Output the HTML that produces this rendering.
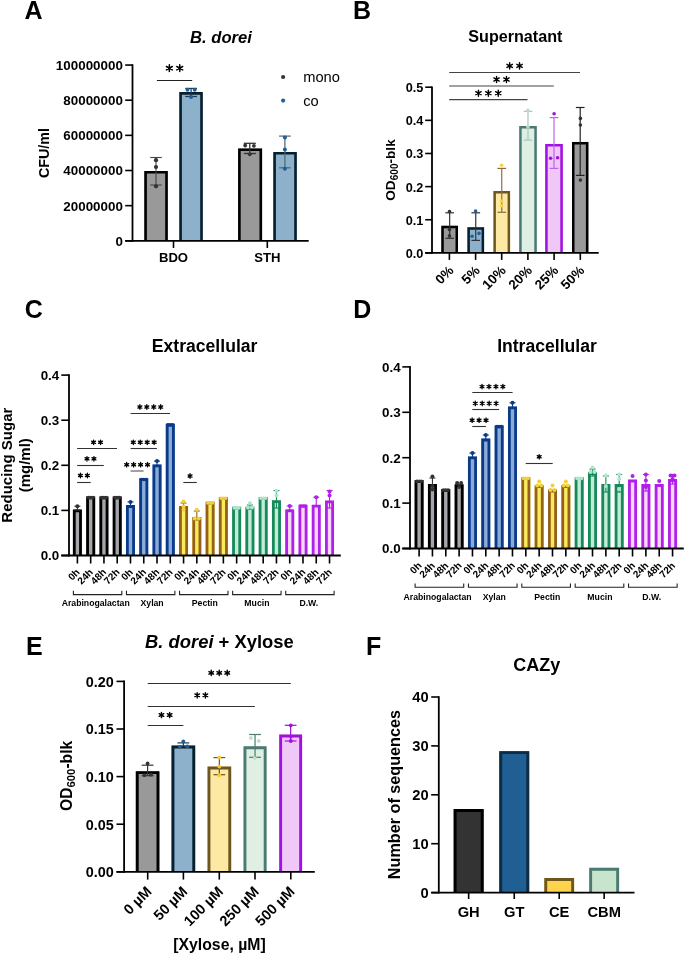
<!DOCTYPE html>
<html><head><meta charset="utf-8"><style>
html,body{margin:0;padding:0;background:#fff;}
svg{display:block;font-family:"Liberation Sans", sans-serif;will-change:transform;}
</style></head><body>
<svg width="685" height="954" viewBox="0 0 685 954">
<rect width="685" height="954" fill="#fff"/>
<text x="24.60" y="18.80" font-size="25" font-weight="bold">A</text>
<text x="221.00" y="42.70" font-size="16.6" font-weight="bold" font-style="italic" text-anchor="middle">B. dorei</text>
<line x1="125.20" y1="240.80" x2="132.50" y2="240.80" stroke="#000" stroke-width="1.6"/>
<text x="122.90" y="245.70" font-size="13.4" font-weight="bold" text-anchor="end">0</text>
<line x1="125.20" y1="205.65" x2="132.50" y2="205.65" stroke="#000" stroke-width="1.6"/>
<text x="122.90" y="210.55" font-size="13.4" font-weight="bold" text-anchor="end">20000000</text>
<line x1="125.20" y1="170.50" x2="132.50" y2="170.50" stroke="#000" stroke-width="1.6"/>
<text x="122.90" y="175.40" font-size="13.4" font-weight="bold" text-anchor="end">40000000</text>
<line x1="125.20" y1="135.35" x2="132.50" y2="135.35" stroke="#000" stroke-width="1.6"/>
<text x="122.90" y="140.25" font-size="13.4" font-weight="bold" text-anchor="end">60000000</text>
<line x1="125.20" y1="100.20" x2="132.50" y2="100.20" stroke="#000" stroke-width="1.6"/>
<text x="122.90" y="105.10" font-size="13.4" font-weight="bold" text-anchor="end">80000000</text>
<line x1="125.20" y1="65.05" x2="132.50" y2="65.05" stroke="#000" stroke-width="1.6"/>
<text x="122.90" y="69.95" font-size="13.4" font-weight="bold" text-anchor="end">100000000</text>
<line x1="132.50" y1="64.25" x2="132.50" y2="241.70" stroke="#000" stroke-width="1.8"/>
<line x1="173.50" y1="240.80" x2="173.50" y2="248.00" stroke="#000" stroke-width="1.6"/>
<line x1="267.30" y1="240.80" x2="267.30" y2="248.00" stroke="#000" stroke-width="1.6"/>
<text x="173.50" y="262.40" font-size="13.1" font-weight="bold" text-anchor="middle">BDO</text>
<text x="267.40" y="262.40" font-size="13.1" font-weight="bold" text-anchor="middle">STH</text>
<text x="49.20" y="153.00" font-size="14.3" font-weight="bold" text-anchor="middle" transform="rotate(-90 49.20 153.00)">CFU/ml</text>
<rect x="144.30" y="171.00" width="23.50" height="69.80" fill="#999999"/>
<path d="M145.60 240.80V172.30H166.50V240.80" fill="none" stroke="#000000" stroke-width="2.6"/>
<rect x="179.30" y="92.10" width="23.50" height="148.70" fill="#8eb1cb"/>
<path d="M180.60 240.80V93.40H201.50V240.80" fill="none" stroke="#07202f" stroke-width="2.6"/>
<rect x="238.10" y="148.40" width="24.00" height="92.40" fill="#999999"/>
<path d="M239.40 240.80V149.70H260.80V240.80" fill="none" stroke="#000000" stroke-width="2.6"/>
<rect x="273.30" y="152.00" width="23.50" height="88.80" fill="#8eb1cb"/>
<path d="M274.60 240.80V153.30H295.50V240.80" fill="none" stroke="#07202f" stroke-width="2.6"/>
<line x1="156.00" y1="157.50" x2="156.00" y2="185.00" stroke="#444" stroke-width="1.1"/>
<line x1="150.20" y1="157.50" x2="161.80" y2="157.50" stroke="#444" stroke-width="1.1"/>
<line x1="150.20" y1="185.00" x2="161.80" y2="185.00" stroke="#444" stroke-width="1.1"/>
<circle cx="156.00" cy="160.20" r="2.1" fill="#333333"/>
<circle cx="156.00" cy="167.00" r="2.1" fill="#333333"/>
<circle cx="156.00" cy="186.30" r="2.1" fill="#333333"/>
<line x1="191.10" y1="88.40" x2="191.10" y2="96.50" stroke="#1e3a50" stroke-width="1.2"/>
<line x1="185.20" y1="88.40" x2="197.00" y2="88.40" stroke="#1e3a50" stroke-width="1.2"/>
<line x1="185.20" y1="96.50" x2="197.00" y2="96.50" stroke="#1e3a50" stroke-width="1.2"/>
<circle cx="187.50" cy="89.70" r="2.0" fill="#1f5f9a"/>
<circle cx="194.70" cy="89.70" r="2.0" fill="#1f5f9a"/>
<circle cx="191.10" cy="97.10" r="2.0" fill="#1f5f9a"/>
<line x1="249.80" y1="143.30" x2="249.80" y2="153.50" stroke="#333333" stroke-width="1.3"/>
<line x1="243.80" y1="143.30" x2="255.80" y2="143.30" stroke="#333333" stroke-width="1.3"/>
<line x1="243.80" y1="153.50" x2="255.80" y2="153.50" stroke="#333333" stroke-width="1.3"/>
<circle cx="245.20" cy="145.50" r="1.9" fill="#333333"/>
<circle cx="253.90" cy="145.80" r="1.9" fill="#333333"/>
<circle cx="249.80" cy="154.30" r="1.9" fill="#333333"/>
<line x1="284.90" y1="136.10" x2="284.90" y2="167.80" stroke="#4a6478" stroke-width="1.2"/>
<line x1="279.10" y1="136.10" x2="290.70" y2="136.10" stroke="#4a6478" stroke-width="1.2"/>
<line x1="279.10" y1="167.80" x2="290.70" y2="167.80" stroke="#4a6478" stroke-width="1.2"/>
<circle cx="284.90" cy="137.40" r="2.0" fill="#1f5f9a"/>
<circle cx="284.90" cy="149.40" r="2.0" fill="#1f5f9a"/>
<circle cx="284.90" cy="168.80" r="2.0" fill="#1f5f9a"/>
<line x1="156.90" y1="80.50" x2="192.20" y2="80.50" stroke="#222" stroke-width="1.15"/>
<path d="M169.35 71.60L169.35 64.80M166.41 69.90L172.29 66.50M166.41 66.50L172.29 69.90" stroke="#000" stroke-width="1.5" stroke-linecap="round" fill="none"/>
<circle cx="169.35" cy="68.20" r="1.29" fill="#000"/>
<path d="M179.75 71.60L179.75 64.80M176.81 69.90L182.69 66.50M176.81 66.50L182.69 69.90" stroke="#000" stroke-width="1.5" stroke-linecap="round" fill="none"/>
<circle cx="179.75" cy="68.20" r="1.29" fill="#000"/>
<circle cx="283.10" cy="77.00" r="2.1" fill="#333"/>
<circle cx="283.10" cy="100.60" r="2.1" fill="#2060a0"/>
<text x="303.20" y="82.00" font-size="14.7">mono</text>
<text x="303.20" y="105.50" font-size="14.7">co</text>
<text x="353.10" y="18.90" font-size="25" font-weight="bold">B</text>
<text x="515.35" y="41.50" font-size="16.15" font-weight="bold" text-anchor="middle">Supernatant</text>
<line x1="425.20" y1="252.90" x2="432.00" y2="252.90" stroke="#000" stroke-width="1.6"/>
<text x="423.30" y="257.90" font-size="12.7" font-weight="bold" text-anchor="end">0.0</text>
<line x1="425.20" y1="219.76" x2="432.00" y2="219.76" stroke="#000" stroke-width="1.6"/>
<text x="423.30" y="224.76" font-size="12.7" font-weight="bold" text-anchor="end">0.1</text>
<line x1="425.20" y1="186.62" x2="432.00" y2="186.62" stroke="#000" stroke-width="1.6"/>
<text x="423.30" y="191.62" font-size="12.7" font-weight="bold" text-anchor="end">0.2</text>
<line x1="425.20" y1="153.48" x2="432.00" y2="153.48" stroke="#000" stroke-width="1.6"/>
<text x="423.30" y="158.48" font-size="12.7" font-weight="bold" text-anchor="end">0.3</text>
<line x1="425.20" y1="120.34" x2="432.00" y2="120.34" stroke="#000" stroke-width="1.6"/>
<text x="423.30" y="125.34" font-size="12.7" font-weight="bold" text-anchor="end">0.4</text>
<line x1="425.20" y1="87.20" x2="432.00" y2="87.20" stroke="#000" stroke-width="1.6"/>
<text x="423.30" y="92.20" font-size="12.7" font-weight="bold" text-anchor="end">0.5</text>
<line x1="432.00" y1="86.40" x2="432.00" y2="253.80" stroke="#000" stroke-width="1.8"/>
<text x="395.00" y="170.00" font-size="13.6" font-weight="bold" text-anchor="middle" transform="rotate(-90 395.00 170.00)">OD<tspan font-size="10.1" dy="3">600</tspan><tspan dy="-3">-blk</tspan></text>
<line x1="449.40" y1="252.90" x2="449.40" y2="259.90" stroke="#000" stroke-width="1.6"/>
<text x="454.40" y="271.40" font-size="13.4" font-weight="bold" text-anchor="end" transform="rotate(-45 454.40 271.40)">0%</text>
<line x1="475.60" y1="252.90" x2="475.60" y2="259.90" stroke="#000" stroke-width="1.6"/>
<text x="480.60" y="271.40" font-size="13.4" font-weight="bold" text-anchor="end" transform="rotate(-45 480.60 271.40)">5%</text>
<line x1="501.70" y1="252.90" x2="501.70" y2="259.90" stroke="#000" stroke-width="1.6"/>
<text x="506.70" y="271.40" font-size="13.4" font-weight="bold" text-anchor="end" transform="rotate(-45 506.70 271.40)">10%</text>
<line x1="527.90" y1="252.90" x2="527.90" y2="259.90" stroke="#000" stroke-width="1.6"/>
<text x="532.90" y="271.40" font-size="13.4" font-weight="bold" text-anchor="end" transform="rotate(-45 532.90 271.40)">20%</text>
<line x1="554.10" y1="252.90" x2="554.10" y2="259.90" stroke="#000" stroke-width="1.6"/>
<text x="559.10" y="271.40" font-size="13.4" font-weight="bold" text-anchor="end" transform="rotate(-45 559.10 271.40)">25%</text>
<line x1="580.30" y1="252.90" x2="580.30" y2="259.90" stroke="#000" stroke-width="1.6"/>
<text x="585.30" y="271.40" font-size="13.4" font-weight="bold" text-anchor="end" transform="rotate(-45 585.30 271.40)">50%</text>
<rect x="441.30" y="225.80" width="16.70" height="27.10" fill="#999999"/>
<path d="M442.55 252.90V227.05H456.75V252.90" fill="none" stroke="#000000" stroke-width="2.5"/>
<line x1="449.65" y1="212.80" x2="449.65" y2="238.30" stroke="#333333" stroke-width="1.2"/>
<line x1="445.30" y1="212.80" x2="454.00" y2="212.80" stroke="#333333" stroke-width="1.2"/>
<line x1="445.30" y1="238.30" x2="454.00" y2="238.30" stroke="#333333" stroke-width="1.2"/>
<circle cx="449.50" cy="211.60" r="1.8" fill="#333333"/>
<circle cx="449.50" cy="229.60" r="1.8" fill="#333333"/>
<circle cx="449.50" cy="235.90" r="1.8" fill="#333333"/>
<rect x="467.40" y="227.20" width="16.70" height="25.70" fill="#8eb1cb"/>
<path d="M468.65 252.90V228.45H482.85V252.90" fill="none" stroke="#07202f" stroke-width="2.5"/>
<line x1="475.75" y1="212.80" x2="475.75" y2="240.40" stroke="#333333" stroke-width="1.2"/>
<line x1="471.40" y1="212.80" x2="480.10" y2="212.80" stroke="#333333" stroke-width="1.2"/>
<line x1="471.40" y1="240.40" x2="480.10" y2="240.40" stroke="#333333" stroke-width="1.2"/>
<circle cx="475.60" cy="211.00" r="1.8" fill="#2060a0"/>
<circle cx="472.10" cy="236.20" r="1.8" fill="#2060a0"/>
<circle cx="479.00" cy="233.40" r="1.8" fill="#2060a0"/>
<rect x="493.40" y="191.10" width="16.70" height="61.80" fill="#fde8a4"/>
<path d="M494.65 252.90V192.35H508.85V252.90" fill="none" stroke="#6e5620" stroke-width="2.5"/>
<line x1="501.75" y1="168.40" x2="501.75" y2="212.30" stroke="#8a7040" stroke-width="1.2"/>
<line x1="497.40" y1="168.40" x2="506.10" y2="168.40" stroke="#8a7040" stroke-width="1.2"/>
<line x1="497.40" y1="212.30" x2="506.10" y2="212.30" stroke="#8a7040" stroke-width="1.2"/>
<circle cx="501.60" cy="165.20" r="1.8" fill="#f8d048"/>
<circle cx="501.60" cy="201.00" r="1.8" fill="#f8d048"/>
<circle cx="501.60" cy="205.80" r="1.8" fill="#f8d048"/>
<rect x="519.20" y="126.00" width="17.60" height="126.90" fill="#e0efe4"/>
<path d="M520.45 252.90V127.25H535.55V252.90" fill="none" stroke="#4a7a72" stroke-width="2.5"/>
<line x1="528.00" y1="111.40" x2="528.00" y2="140.20" stroke="#a8c8b8" stroke-width="1.2"/>
<line x1="523.65" y1="111.40" x2="532.35" y2="111.40" stroke="#a8c8b8" stroke-width="1.2"/>
<line x1="523.65" y1="140.20" x2="532.35" y2="140.20" stroke="#a8c8b8" stroke-width="1.2"/>
<circle cx="527.90" cy="110.40" r="1.8" fill="#b8dcc8"/>
<circle cx="527.90" cy="126.80" r="1.8" fill="#b8dcc8"/>
<circle cx="527.90" cy="139.00" r="1.8" fill="#b8dcc8"/>
<rect x="545.20" y="143.90" width="17.60" height="109.00" fill="#f0c8f8"/>
<path d="M546.45 252.90V145.15H561.55V252.90" fill="none" stroke="#a010e0" stroke-width="2.5"/>
<line x1="554.00" y1="117.60" x2="554.00" y2="168.40" stroke="#c060f0" stroke-width="1.2"/>
<line x1="549.65" y1="117.60" x2="558.35" y2="117.60" stroke="#c060f0" stroke-width="1.2"/>
<line x1="549.65" y1="168.40" x2="558.35" y2="168.40" stroke="#c060f0" stroke-width="1.2"/>
<circle cx="554.10" cy="113.70" r="1.8" fill="#a010e0"/>
<circle cx="550.60" cy="158.30" r="1.8" fill="#a010e0"/>
<circle cx="557.60" cy="157.80" r="1.8" fill="#a010e0"/>
<rect x="572.00" y="141.90" width="16.40" height="111.00" fill="#999999"/>
<path d="M573.25 252.90V143.15H587.15V252.90" fill="none" stroke="#000000" stroke-width="2.5"/>
<line x1="580.20" y1="107.50" x2="580.20" y2="175.40" stroke="#222222" stroke-width="1.2"/>
<line x1="575.85" y1="107.50" x2="584.55" y2="107.50" stroke="#222222" stroke-width="1.2"/>
<line x1="575.85" y1="175.40" x2="584.55" y2="175.40" stroke="#222222" stroke-width="1.2"/>
<circle cx="580.40" cy="118.40" r="1.8" fill="#333333"/>
<circle cx="580.40" cy="125.10" r="1.8" fill="#333333"/>
<circle cx="580.40" cy="180.10" r="1.8" fill="#333333"/>
<line x1="449.20" y1="72.50" x2="580.00" y2="72.50" stroke="#444" stroke-width="1.15"/>
<path d="M509.65 69.00L509.65 62.80M506.97 67.45L512.33 64.35M506.97 64.35L512.33 67.45" stroke="#000" stroke-width="1.4" stroke-linecap="round" fill="none"/>
<circle cx="509.65" cy="65.90" r="1.18" fill="#000"/>
<path d="M519.55 69.00L519.55 62.80M516.87 67.45L522.23 64.35M516.87 64.35L522.23 67.45" stroke="#000" stroke-width="1.4" stroke-linecap="round" fill="none"/>
<circle cx="519.55" cy="65.90" r="1.18" fill="#000"/>
<line x1="449.20" y1="86.00" x2="553.80" y2="86.00" stroke="#444" stroke-width="1.15"/>
<path d="M496.55 82.60L496.55 76.40M493.87 81.05L499.23 77.95M493.87 77.95L499.23 81.05" stroke="#000" stroke-width="1.4" stroke-linecap="round" fill="none"/>
<circle cx="496.55" cy="79.50" r="1.18" fill="#000"/>
<path d="M506.45 82.60L506.45 76.40M503.77 81.05L509.13 77.95M503.77 77.95L509.13 81.05" stroke="#000" stroke-width="1.4" stroke-linecap="round" fill="none"/>
<circle cx="506.45" cy="79.50" r="1.18" fill="#000"/>
<line x1="449.20" y1="99.60" x2="527.50" y2="99.60" stroke="#444" stroke-width="1.15"/>
<path d="M478.45 96.30L478.45 90.10M475.77 94.75L481.13 91.65M475.77 91.65L481.13 94.75" stroke="#000" stroke-width="1.4" stroke-linecap="round" fill="none"/>
<circle cx="478.45" cy="93.20" r="1.18" fill="#000"/>
<path d="M488.35 96.30L488.35 90.10M485.67 94.75L491.03 91.65M485.67 91.65L491.03 94.75" stroke="#000" stroke-width="1.4" stroke-linecap="round" fill="none"/>
<circle cx="488.35" cy="93.20" r="1.18" fill="#000"/>
<path d="M498.25 96.30L498.25 90.10M495.57 94.75L500.93 91.65M495.57 91.65L500.93 94.75" stroke="#000" stroke-width="1.4" stroke-linecap="round" fill="none"/>
<circle cx="498.25" cy="93.20" r="1.18" fill="#000"/>
<text x="24.70" y="318.40" font-size="25" font-weight="bold">C</text>
<text x="204.60" y="351.50" font-size="17.6" font-weight="bold" text-anchor="middle">Extracellular</text>
<line x1="61.30" y1="555.50" x2="69.00" y2="555.50" stroke="#000" stroke-width="1.6"/>
<text x="59.30" y="560.40" font-size="13.4" font-weight="bold" text-anchor="end">0.0</text>
<line x1="61.30" y1="510.40" x2="69.00" y2="510.40" stroke="#000" stroke-width="1.6"/>
<text x="59.30" y="515.30" font-size="13.4" font-weight="bold" text-anchor="end">0.1</text>
<line x1="61.30" y1="465.30" x2="69.00" y2="465.30" stroke="#000" stroke-width="1.6"/>
<text x="59.30" y="470.20" font-size="13.4" font-weight="bold" text-anchor="end">0.2</text>
<line x1="61.30" y1="420.20" x2="69.00" y2="420.20" stroke="#000" stroke-width="1.6"/>
<text x="59.30" y="425.10" font-size="13.4" font-weight="bold" text-anchor="end">0.3</text>
<line x1="61.30" y1="375.10" x2="69.00" y2="375.10" stroke="#000" stroke-width="1.6"/>
<text x="59.30" y="380.00" font-size="13.4" font-weight="bold" text-anchor="end">0.4</text>
<line x1="69.00" y1="374.30" x2="69.00" y2="556.40" stroke="#000" stroke-width="1.8"/>
<rect x="72.90" y="509.50" width="9.00" height="46.00" fill="#a6a6aa"/>
<path d="M74.30 555.50V510.90H80.50V555.50" fill="none" stroke="#000000" stroke-width="2.8"/>
<line x1="77.40" y1="555.50" x2="77.40" y2="563.50" stroke="#000" stroke-width="1.6"/>
<text x="80.40" y="572.80" font-size="10" font-weight="bold" text-anchor="end" transform="rotate(-45 80.40 572.80)">0h</text>
<line x1="77.40" y1="506.20" x2="77.40" y2="510.00" stroke="#333333" stroke-width="1.1"/>
<line x1="74.40" y1="506.20" x2="80.40" y2="506.20" stroke="#333333" stroke-width="1.1"/>
<line x1="74.40" y1="510.00" x2="80.40" y2="510.00" stroke="#333333" stroke-width="1.1"/>
<circle cx="77.40" cy="506.20" r="2.0" fill="#333333"/>
<rect x="86.17" y="496.40" width="9.00" height="59.10" fill="#a6a6aa"/>
<path d="M87.57 555.50V497.80H93.77V555.50" fill="none" stroke="#000000" stroke-width="2.8"/>
<line x1="90.67" y1="555.50" x2="90.67" y2="563.50" stroke="#000" stroke-width="1.6"/>
<text x="93.67" y="572.80" font-size="10" font-weight="bold" text-anchor="end" transform="rotate(-45 93.67 572.80)">24h</text>
<circle cx="88.37" cy="497.60" r="1.8" fill="#333333"/>
<circle cx="90.67" cy="497.60" r="1.8" fill="#333333"/>
<circle cx="92.97" cy="497.60" r="1.8" fill="#333333"/>
<rect x="99.44" y="496.40" width="9.00" height="59.10" fill="#a6a6aa"/>
<path d="M100.84 555.50V497.80H107.04V555.50" fill="none" stroke="#000000" stroke-width="2.8"/>
<line x1="103.94" y1="555.50" x2="103.94" y2="563.50" stroke="#000" stroke-width="1.6"/>
<text x="106.94" y="572.80" font-size="10" font-weight="bold" text-anchor="end" transform="rotate(-45 106.94 572.80)">48h</text>
<circle cx="101.64" cy="497.60" r="1.8" fill="#333333"/>
<circle cx="103.94" cy="497.60" r="1.8" fill="#333333"/>
<circle cx="106.24" cy="497.60" r="1.8" fill="#333333"/>
<rect x="112.71" y="496.40" width="9.00" height="59.10" fill="#a6a6aa"/>
<path d="M114.11 555.50V497.80H120.31V555.50" fill="none" stroke="#000000" stroke-width="2.8"/>
<line x1="117.21" y1="555.50" x2="117.21" y2="563.50" stroke="#000" stroke-width="1.6"/>
<text x="120.21" y="572.80" font-size="10" font-weight="bold" text-anchor="end" transform="rotate(-45 120.21 572.80)">72h</text>
<circle cx="114.91" cy="497.60" r="1.8" fill="#333333"/>
<circle cx="117.21" cy="497.60" r="1.8" fill="#333333"/>
<circle cx="119.51" cy="497.60" r="1.8" fill="#333333"/>
<rect x="125.98" y="505.10" width="9.00" height="50.40" fill="#8aacd8"/>
<path d="M127.38 555.50V506.50H133.58V555.50" fill="none" stroke="#0a3a88" stroke-width="2.8"/>
<line x1="130.48" y1="555.50" x2="130.48" y2="563.50" stroke="#000" stroke-width="1.6"/>
<text x="133.48" y="572.80" font-size="10" font-weight="bold" text-anchor="end" transform="rotate(-45 133.48 572.80)">0h</text>
<line x1="130.48" y1="501.90" x2="130.48" y2="506.00" stroke="#0a3a88" stroke-width="1.1"/>
<line x1="127.48" y1="501.90" x2="133.48" y2="501.90" stroke="#0a3a88" stroke-width="1.1"/>
<line x1="127.48" y1="506.00" x2="133.48" y2="506.00" stroke="#0a3a88" stroke-width="1.1"/>
<circle cx="130.48" cy="501.90" r="2.0" fill="#0a3a88"/>
<rect x="139.25" y="478.30" width="9.00" height="77.20" fill="#8aacd8"/>
<path d="M140.65 555.50V479.70H146.85V555.50" fill="none" stroke="#0a3a88" stroke-width="2.8"/>
<line x1="143.75" y1="555.50" x2="143.75" y2="563.50" stroke="#000" stroke-width="1.6"/>
<text x="146.75" y="572.80" font-size="10" font-weight="bold" text-anchor="end" transform="rotate(-45 146.75 572.80)">24h</text>
<circle cx="141.45" cy="479.50" r="1.8" fill="#0a3a88"/>
<circle cx="143.75" cy="479.50" r="1.8" fill="#0a3a88"/>
<circle cx="146.05" cy="479.50" r="1.8" fill="#0a3a88"/>
<rect x="152.52" y="464.50" width="9.00" height="91.00" fill="#8aacd8"/>
<path d="M153.92 555.50V465.90H160.12V555.50" fill="none" stroke="#0a3a88" stroke-width="2.8"/>
<line x1="157.02" y1="555.50" x2="157.02" y2="563.50" stroke="#000" stroke-width="1.6"/>
<text x="160.02" y="572.80" font-size="10" font-weight="bold" text-anchor="end" transform="rotate(-45 160.02 572.80)">48h</text>
<line x1="157.02" y1="461.10" x2="157.02" y2="465.50" stroke="#0a3a88" stroke-width="1.1"/>
<line x1="154.02" y1="461.10" x2="160.02" y2="461.10" stroke="#0a3a88" stroke-width="1.1"/>
<line x1="154.02" y1="465.50" x2="160.02" y2="465.50" stroke="#0a3a88" stroke-width="1.1"/>
<circle cx="157.02" cy="461.10" r="2.0" fill="#0a3a88"/>
<rect x="165.79" y="423.70" width="9.00" height="131.80" fill="#8aacd8"/>
<path d="M167.19 555.50V425.10H173.39V555.50" fill="none" stroke="#0a3a88" stroke-width="2.8"/>
<line x1="170.29" y1="555.50" x2="170.29" y2="563.50" stroke="#000" stroke-width="1.6"/>
<text x="173.29" y="572.80" font-size="10" font-weight="bold" text-anchor="end" transform="rotate(-45 173.29 572.80)">72h</text>
<circle cx="167.99" cy="424.90" r="1.8" fill="#0a3a88"/>
<circle cx="170.29" cy="424.90" r="1.8" fill="#0a3a88"/>
<circle cx="172.59" cy="424.90" r="1.8" fill="#0a3a88"/>
<rect x="179.06" y="506.00" width="9.00" height="49.50" fill="#f8ec5c"/>
<path d="M180.46 555.50V507.40H186.66V555.50" fill="none" stroke="#95601a" stroke-width="2.8"/>
<line x1="183.56" y1="555.50" x2="183.56" y2="563.50" stroke="#000" stroke-width="1.6"/>
<text x="186.56" y="572.80" font-size="10" font-weight="bold" text-anchor="end" transform="rotate(-45 186.56 572.80)">0h</text>
<line x1="183.56" y1="503.00" x2="183.56" y2="510.00" stroke="#95601a" stroke-width="1.1"/>
<line x1="180.56" y1="503.00" x2="186.56" y2="503.00" stroke="#95601a" stroke-width="1.1"/>
<line x1="180.56" y1="510.00" x2="186.56" y2="510.00" stroke="#95601a" stroke-width="1.1"/>
<circle cx="183.56" cy="501.50" r="2.0" fill="#f0d040"/>
<circle cx="183.56" cy="506.50" r="2.0" fill="#f0d040"/>
<circle cx="183.56" cy="509.50" r="2.0" fill="#f0d040"/>
<rect x="192.33" y="517.00" width="9.00" height="38.50" fill="#f8ec5c"/>
<path d="M193.73 555.50V518.40H199.93V555.50" fill="none" stroke="#95601a" stroke-width="2.8"/>
<line x1="196.83" y1="555.50" x2="196.83" y2="563.50" stroke="#000" stroke-width="1.6"/>
<text x="199.83" y="572.80" font-size="10" font-weight="bold" text-anchor="end" transform="rotate(-45 199.83 572.80)">24h</text>
<line x1="196.83" y1="511.00" x2="196.83" y2="520.00" stroke="#95601a" stroke-width="1.1"/>
<line x1="193.83" y1="511.00" x2="199.83" y2="511.00" stroke="#95601a" stroke-width="1.1"/>
<line x1="193.83" y1="520.00" x2="199.83" y2="520.00" stroke="#95601a" stroke-width="1.1"/>
<circle cx="196.83" cy="509.70" r="2.0" fill="#f0d040"/>
<circle cx="194.83" cy="518.50" r="2.0" fill="#f0d040"/>
<circle cx="198.83" cy="518.50" r="2.0" fill="#f0d040"/>
<rect x="205.60" y="501.70" width="9.00" height="53.80" fill="#f8ec5c"/>
<path d="M207.00 555.50V503.10H213.20V555.50" fill="none" stroke="#95601a" stroke-width="2.8"/>
<line x1="210.10" y1="555.50" x2="210.10" y2="563.50" stroke="#000" stroke-width="1.6"/>
<text x="213.10" y="572.80" font-size="10" font-weight="bold" text-anchor="end" transform="rotate(-45 213.10 572.80)">48h</text>
<circle cx="207.80" cy="502.90" r="1.8" fill="#f0d040"/>
<circle cx="210.10" cy="502.90" r="1.8" fill="#f0d040"/>
<circle cx="212.40" cy="502.90" r="1.8" fill="#f0d040"/>
<rect x="218.87" y="497.00" width="9.00" height="58.50" fill="#f8ec5c"/>
<path d="M220.27 555.50V498.40H226.47V555.50" fill="none" stroke="#95601a" stroke-width="2.8"/>
<line x1="223.37" y1="555.50" x2="223.37" y2="563.50" stroke="#000" stroke-width="1.6"/>
<text x="226.37" y="572.80" font-size="10" font-weight="bold" text-anchor="end" transform="rotate(-45 226.37 572.80)">72h</text>
<circle cx="221.07" cy="498.20" r="1.8" fill="#f0d040"/>
<circle cx="223.37" cy="498.20" r="1.8" fill="#f0d040"/>
<circle cx="225.67" cy="498.20" r="1.8" fill="#f0d040"/>
<rect x="232.14" y="506.80" width="9.00" height="48.70" fill="#c0ecd8"/>
<path d="M233.54 555.50V508.20H239.74V555.50" fill="none" stroke="#17895a" stroke-width="2.8"/>
<line x1="236.64" y1="555.50" x2="236.64" y2="563.50" stroke="#000" stroke-width="1.6"/>
<text x="239.64" y="572.80" font-size="10" font-weight="bold" text-anchor="end" transform="rotate(-45 239.64 572.80)">0h</text>
<circle cx="234.34" cy="508.00" r="1.8" fill="#b0e4cc"/>
<circle cx="236.64" cy="508.00" r="1.8" fill="#b0e4cc"/>
<circle cx="238.94" cy="508.00" r="1.8" fill="#b0e4cc"/>
<rect x="245.41" y="506.80" width="9.00" height="48.70" fill="#c0ecd8"/>
<path d="M246.81 555.50V508.20H253.01V555.50" fill="none" stroke="#17895a" stroke-width="2.8"/>
<line x1="249.91" y1="555.50" x2="249.91" y2="563.50" stroke="#000" stroke-width="1.6"/>
<text x="252.91" y="572.80" font-size="10" font-weight="bold" text-anchor="end" transform="rotate(-45 252.91 572.80)">24h</text>
<line x1="249.91" y1="505.00" x2="249.91" y2="509.00" stroke="#17895a" stroke-width="1.1"/>
<line x1="246.91" y1="505.00" x2="252.91" y2="505.00" stroke="#17895a" stroke-width="1.1"/>
<line x1="246.91" y1="509.00" x2="252.91" y2="509.00" stroke="#17895a" stroke-width="1.1"/>
<circle cx="249.91" cy="503.20" r="2.0" fill="#b0e4cc"/>
<circle cx="247.91" cy="507.50" r="2.0" fill="#b0e4cc"/>
<circle cx="251.91" cy="507.50" r="2.0" fill="#b0e4cc"/>
<rect x="258.68" y="497.00" width="9.00" height="58.50" fill="#c0ecd8"/>
<path d="M260.08 555.50V498.40H266.28V555.50" fill="none" stroke="#17895a" stroke-width="2.8"/>
<line x1="263.18" y1="555.50" x2="263.18" y2="563.50" stroke="#000" stroke-width="1.6"/>
<text x="266.18" y="572.80" font-size="10" font-weight="bold" text-anchor="end" transform="rotate(-45 266.18 572.80)">48h</text>
<circle cx="260.88" cy="498.20" r="1.8" fill="#b0e4cc"/>
<circle cx="263.18" cy="498.20" r="1.8" fill="#b0e4cc"/>
<circle cx="265.48" cy="498.20" r="1.8" fill="#b0e4cc"/>
<rect x="271.95" y="500.20" width="9.00" height="55.30" fill="#c0ecd8"/>
<path d="M273.35 555.50V501.60H279.55V555.50" fill="none" stroke="#17895a" stroke-width="2.8"/>
<line x1="276.45" y1="555.50" x2="276.45" y2="563.50" stroke="#000" stroke-width="1.6"/>
<text x="279.45" y="572.80" font-size="10" font-weight="bold" text-anchor="end" transform="rotate(-45 279.45 572.80)">72h</text>
<line x1="276.45" y1="490.50" x2="276.45" y2="508.00" stroke="#17895a" stroke-width="1.1"/>
<line x1="273.45" y1="490.50" x2="279.45" y2="490.50" stroke="#17895a" stroke-width="1.1"/>
<line x1="273.45" y1="508.00" x2="279.45" y2="508.00" stroke="#17895a" stroke-width="1.1"/>
<circle cx="276.45" cy="491.00" r="2.0" fill="#b0e4cc"/>
<circle cx="276.45" cy="495.50" r="2.0" fill="#b0e4cc"/>
<rect x="285.22" y="509.40" width="9.00" height="46.10" fill="#f8d8f8"/>
<path d="M286.62 555.50V510.80H292.82V555.50" fill="none" stroke="#b020e8" stroke-width="2.8"/>
<line x1="289.72" y1="555.50" x2="289.72" y2="563.50" stroke="#000" stroke-width="1.6"/>
<text x="292.72" y="572.80" font-size="10" font-weight="bold" text-anchor="end" transform="rotate(-45 292.72 572.80)">0h</text>
<line x1="289.72" y1="506.00" x2="289.72" y2="510.00" stroke="#b020e8" stroke-width="1.1"/>
<line x1="286.72" y1="506.00" x2="292.72" y2="506.00" stroke="#b020e8" stroke-width="1.1"/>
<line x1="286.72" y1="510.00" x2="292.72" y2="510.00" stroke="#b020e8" stroke-width="1.1"/>
<circle cx="289.72" cy="506.00" r="2.0" fill="#b020e8"/>
<rect x="298.49" y="504.80" width="9.00" height="50.70" fill="#f8d8f8"/>
<path d="M299.89 555.50V506.20H306.09V555.50" fill="none" stroke="#b020e8" stroke-width="2.8"/>
<line x1="302.99" y1="555.50" x2="302.99" y2="563.50" stroke="#000" stroke-width="1.6"/>
<text x="305.99" y="572.80" font-size="10" font-weight="bold" text-anchor="end" transform="rotate(-45 305.99 572.80)">24h</text>
<circle cx="300.69" cy="506.00" r="1.8" fill="#b020e8"/>
<circle cx="302.99" cy="506.00" r="1.8" fill="#b020e8"/>
<circle cx="305.29" cy="506.00" r="1.8" fill="#b020e8"/>
<rect x="311.76" y="504.80" width="9.00" height="50.70" fill="#f8d8f8"/>
<path d="M313.16 555.50V506.20H319.36V555.50" fill="none" stroke="#b020e8" stroke-width="2.8"/>
<line x1="316.26" y1="555.50" x2="316.26" y2="563.50" stroke="#000" stroke-width="1.6"/>
<text x="319.26" y="572.80" font-size="10" font-weight="bold" text-anchor="end" transform="rotate(-45 319.26 572.80)">48h</text>
<line x1="316.26" y1="497.20" x2="316.26" y2="506.00" stroke="#b020e8" stroke-width="1.1"/>
<line x1="313.26" y1="497.20" x2="319.26" y2="497.20" stroke="#b020e8" stroke-width="1.1"/>
<line x1="313.26" y1="506.00" x2="319.26" y2="506.00" stroke="#b020e8" stroke-width="1.1"/>
<circle cx="316.26" cy="497.20" r="2.0" fill="#b020e8"/>
<rect x="325.03" y="500.40" width="9.00" height="55.10" fill="#f8d8f8"/>
<path d="M326.43 555.50V501.80H332.63V555.50" fill="none" stroke="#b020e8" stroke-width="2.8"/>
<line x1="329.53" y1="555.50" x2="329.53" y2="563.50" stroke="#000" stroke-width="1.6"/>
<text x="332.53" y="572.80" font-size="10" font-weight="bold" text-anchor="end" transform="rotate(-45 332.53 572.80)">72h</text>
<line x1="329.53" y1="490.50" x2="329.53" y2="508.00" stroke="#b020e8" stroke-width="1.1"/>
<line x1="326.53" y1="490.50" x2="332.53" y2="490.50" stroke="#b020e8" stroke-width="1.1"/>
<line x1="326.53" y1="508.00" x2="332.53" y2="508.00" stroke="#b020e8" stroke-width="1.1"/>
<circle cx="329.53" cy="491.50" r="2.0" fill="#b020e8"/>
<circle cx="329.53" cy="495.50" r="2.0" fill="#b020e8"/>
<path d="M73.40 590.80V594.60H121.81V590.80" stroke="#222" stroke-width="1.1" fill="none"/>
<text x="95.70" y="606.00" font-size="8.7" font-weight="bold" text-anchor="middle">Arabinogalactan</text>
<path d="M126.48 590.80V594.60H174.89V590.80" stroke="#222" stroke-width="1.1" fill="none"/>
<text x="152.10" y="606.00" font-size="8.7" font-weight="bold" text-anchor="middle">Xylan</text>
<path d="M179.56 590.80V594.60H227.97V590.80" stroke="#222" stroke-width="1.1" fill="none"/>
<text x="204.80" y="606.00" font-size="8.7" font-weight="bold" text-anchor="middle">Pectin</text>
<path d="M232.64 590.80V594.60H281.05V590.80" stroke="#222" stroke-width="1.1" fill="none"/>
<text x="256.90" y="606.00" font-size="8.7" font-weight="bold" text-anchor="middle">Mucin</text>
<path d="M285.72 590.80V594.60H334.13V590.80" stroke="#222" stroke-width="1.1" fill="none"/>
<text x="308.80" y="606.00" font-size="8.7" font-weight="bold" text-anchor="middle">D.W.</text>
<line x1="77.10" y1="482.50" x2="90.70" y2="482.50" stroke="#333" stroke-width="1.1"/>
<path d="M80.43 477.75L80.43 473.25M78.48 476.62L82.37 474.38M78.48 474.38L82.37 476.62" stroke="#000" stroke-width="1.3" stroke-linecap="round" fill="none"/>
<circle cx="80.43" cy="475.50" r="0.85" fill="#000"/>
<path d="M87.38 477.75L87.38 473.25M85.43 476.62L89.32 474.38M85.43 474.38L89.32 476.62" stroke="#000" stroke-width="1.3" stroke-linecap="round" fill="none"/>
<circle cx="87.38" cy="475.50" r="0.85" fill="#000"/>
<line x1="77.10" y1="465.50" x2="103.80" y2="465.50" stroke="#333" stroke-width="1.1"/>
<path d="M86.97 461.05L86.97 456.55M85.03 459.93L88.92 457.68M85.03 457.68L88.92 459.93" stroke="#000" stroke-width="1.3" stroke-linecap="round" fill="none"/>
<circle cx="86.97" cy="458.80" r="0.85" fill="#000"/>
<path d="M93.92 461.05L93.92 456.55M91.98 459.93L95.87 457.68M91.98 457.68L95.87 459.93" stroke="#000" stroke-width="1.3" stroke-linecap="round" fill="none"/>
<circle cx="93.92" cy="458.80" r="0.85" fill="#000"/>
<line x1="77.10" y1="448.50" x2="117.00" y2="448.50" stroke="#333" stroke-width="1.1"/>
<path d="M93.58 444.55L93.58 440.05M91.63 443.43L95.52 441.18M91.63 441.18L95.52 443.43" stroke="#000" stroke-width="1.3" stroke-linecap="round" fill="none"/>
<circle cx="93.58" cy="442.30" r="0.85" fill="#000"/>
<path d="M100.53 444.55L100.53 440.05M98.58 443.43L102.47 441.18M98.58 441.18L102.47 443.43" stroke="#000" stroke-width="1.3" stroke-linecap="round" fill="none"/>
<circle cx="100.53" cy="442.30" r="0.85" fill="#000"/>
<line x1="130.60" y1="471.00" x2="143.60" y2="471.00" stroke="#555" stroke-width="1.1"/>
<path d="M126.67 466.95L126.67 462.45M124.73 465.82L128.62 463.57M124.73 463.57L128.62 465.82" stroke="#000" stroke-width="1.3" stroke-linecap="round" fill="none"/>
<circle cx="126.67" cy="464.70" r="0.85" fill="#000"/>
<path d="M133.62 466.95L133.62 462.45M131.68 465.82L135.57 463.57M131.68 463.57L135.57 465.82" stroke="#000" stroke-width="1.3" stroke-linecap="round" fill="none"/>
<circle cx="133.62" cy="464.70" r="0.85" fill="#000"/>
<path d="M140.57 466.95L140.57 462.45M138.63 465.82L142.52 463.57M138.63 463.57L142.52 465.82" stroke="#000" stroke-width="1.3" stroke-linecap="round" fill="none"/>
<circle cx="140.57" cy="464.70" r="0.85" fill="#000"/>
<path d="M147.53 466.95L147.53 462.45M145.58 465.82L149.47 463.57M145.58 463.57L149.47 465.82" stroke="#000" stroke-width="1.3" stroke-linecap="round" fill="none"/>
<circle cx="147.53" cy="464.70" r="0.85" fill="#000"/>
<line x1="130.60" y1="448.50" x2="156.90" y2="448.50" stroke="#333" stroke-width="1.1"/>
<path d="M133.32 444.55L133.32 440.05M131.38 443.43L135.27 441.18M131.38 441.18L135.27 443.43" stroke="#000" stroke-width="1.3" stroke-linecap="round" fill="none"/>
<circle cx="133.32" cy="442.30" r="0.85" fill="#000"/>
<path d="M140.27 444.55L140.27 440.05M138.33 443.43L142.22 441.18M138.33 441.18L142.22 443.43" stroke="#000" stroke-width="1.3" stroke-linecap="round" fill="none"/>
<circle cx="140.27" cy="442.30" r="0.85" fill="#000"/>
<path d="M147.22 444.55L147.22 440.05M145.28 443.43L149.17 441.18M145.28 441.18L149.17 443.43" stroke="#000" stroke-width="1.3" stroke-linecap="round" fill="none"/>
<circle cx="147.22" cy="442.30" r="0.85" fill="#000"/>
<path d="M154.17 444.55L154.17 440.05M152.23 443.43L156.12 441.18M152.23 441.18L156.12 443.43" stroke="#000" stroke-width="1.3" stroke-linecap="round" fill="none"/>
<circle cx="154.17" cy="442.30" r="0.85" fill="#000"/>
<line x1="130.60" y1="413.50" x2="170.00" y2="413.50" stroke="#333" stroke-width="1.1"/>
<path d="M139.88 409.25L139.88 404.75M137.93 408.12L141.82 405.88M137.93 405.88L141.82 408.12" stroke="#000" stroke-width="1.3" stroke-linecap="round" fill="none"/>
<circle cx="139.88" cy="407.00" r="0.85" fill="#000"/>
<path d="M146.82 409.25L146.82 404.75M144.88 408.12L148.77 405.88M144.88 405.88L148.77 408.12" stroke="#000" stroke-width="1.3" stroke-linecap="round" fill="none"/>
<circle cx="146.82" cy="407.00" r="0.85" fill="#000"/>
<path d="M153.78 409.25L153.78 404.75M151.83 408.12L155.72 405.88M151.83 405.88L155.72 408.12" stroke="#000" stroke-width="1.3" stroke-linecap="round" fill="none"/>
<circle cx="153.78" cy="407.00" r="0.85" fill="#000"/>
<path d="M160.72 409.25L160.72 404.75M158.78 408.12L162.67 405.88M158.78 405.88L162.67 408.12" stroke="#000" stroke-width="1.3" stroke-linecap="round" fill="none"/>
<circle cx="160.72" cy="407.00" r="0.85" fill="#000"/>
<line x1="183.30" y1="482.50" x2="196.80" y2="482.50" stroke="#333" stroke-width="1.1"/>
<path d="M190.05 478.25L190.05 473.75M188.10 477.12L192.00 474.88M188.10 474.88L192.00 477.12" stroke="#000" stroke-width="1.3" stroke-linecap="round" fill="none"/>
<circle cx="190.05" cy="476.00" r="0.85" fill="#000"/>
<text x="12.30" y="465.20" font-size="15" font-weight="bold" text-anchor="middle" transform="rotate(-90 12.30 465.20)">Reducing Sugar</text>
<text x="29.60" y="465.20" font-size="15" font-weight="bold" text-anchor="middle" transform="rotate(-90 29.60 465.20)">(mg/ml)</text>
<text x="353.20" y="318.40" font-size="25" font-weight="bold">D</text>
<text x="547.00" y="351.50" font-size="17.6" font-weight="bold" text-anchor="middle">Intracellular</text>
<line x1="402.30" y1="548.50" x2="410.00" y2="548.50" stroke="#000" stroke-width="1.6"/>
<text x="400.60" y="553.40" font-size="13.4" font-weight="bold" text-anchor="end">0.0</text>
<line x1="402.30" y1="503.10" x2="410.00" y2="503.10" stroke="#000" stroke-width="1.6"/>
<text x="400.60" y="508.00" font-size="13.4" font-weight="bold" text-anchor="end">0.1</text>
<line x1="402.30" y1="457.70" x2="410.00" y2="457.70" stroke="#000" stroke-width="1.6"/>
<text x="400.60" y="462.60" font-size="13.4" font-weight="bold" text-anchor="end">0.2</text>
<line x1="402.30" y1="412.30" x2="410.00" y2="412.30" stroke="#000" stroke-width="1.6"/>
<text x="400.60" y="417.20" font-size="13.4" font-weight="bold" text-anchor="end">0.3</text>
<line x1="402.30" y1="366.90" x2="410.00" y2="366.90" stroke="#000" stroke-width="1.6"/>
<text x="400.60" y="371.80" font-size="13.4" font-weight="bold" text-anchor="end">0.4</text>
<line x1="410.00" y1="366.10" x2="410.00" y2="549.40" stroke="#000" stroke-width="1.8"/>
<rect x="414.60" y="480.10" width="9.00" height="68.40" fill="#a6a6aa"/>
<path d="M416.00 548.50V481.50H422.20V548.50" fill="none" stroke="#000000" stroke-width="2.8"/>
<line x1="419.10" y1="548.50" x2="419.10" y2="556.50" stroke="#000" stroke-width="1.6"/>
<text x="422.30" y="566.30" font-size="10" font-weight="bold" text-anchor="end" transform="rotate(-45 422.30 566.30)">0h</text>
<circle cx="416.80" cy="481.30" r="1.8" fill="#333333"/>
<circle cx="419.10" cy="481.30" r="1.8" fill="#333333"/>
<circle cx="421.40" cy="481.30" r="1.8" fill="#333333"/>
<rect x="427.94" y="484.10" width="9.00" height="64.40" fill="#a6a6aa"/>
<path d="M429.34 548.50V485.50H435.54V548.50" fill="none" stroke="#000000" stroke-width="2.8"/>
<line x1="432.44" y1="548.50" x2="432.44" y2="556.50" stroke="#000" stroke-width="1.6"/>
<text x="435.64" y="566.30" font-size="10" font-weight="bold" text-anchor="end" transform="rotate(-45 435.64 566.30)">24h</text>
<line x1="432.44" y1="478.00" x2="432.44" y2="490.00" stroke="#333333" stroke-width="1.1"/>
<line x1="429.44" y1="478.00" x2="435.44" y2="478.00" stroke="#333333" stroke-width="1.1"/>
<line x1="429.44" y1="490.00" x2="435.44" y2="490.00" stroke="#333333" stroke-width="1.1"/>
<circle cx="432.44" cy="476.50" r="2.0" fill="#333333"/>
<circle cx="432.44" cy="486.00" r="2.0" fill="#333333"/>
<circle cx="432.44" cy="489.50" r="2.0" fill="#333333"/>
<rect x="441.28" y="488.90" width="9.00" height="59.60" fill="#a6a6aa"/>
<path d="M442.68 548.50V490.30H448.88V548.50" fill="none" stroke="#000000" stroke-width="2.8"/>
<line x1="445.78" y1="548.50" x2="445.78" y2="556.50" stroke="#000" stroke-width="1.6"/>
<text x="448.98" y="566.30" font-size="10" font-weight="bold" text-anchor="end" transform="rotate(-45 448.98 566.30)">48h</text>
<circle cx="443.48" cy="490.10" r="1.8" fill="#333333"/>
<circle cx="445.78" cy="490.10" r="1.8" fill="#333333"/>
<circle cx="448.08" cy="490.10" r="1.8" fill="#333333"/>
<rect x="454.62" y="484.30" width="9.00" height="64.20" fill="#a6a6aa"/>
<path d="M456.02 548.50V485.70H462.22V548.50" fill="none" stroke="#000000" stroke-width="2.8"/>
<line x1="459.12" y1="548.50" x2="459.12" y2="556.50" stroke="#000" stroke-width="1.6"/>
<text x="462.32" y="566.30" font-size="10" font-weight="bold" text-anchor="end" transform="rotate(-45 462.32 566.30)">72h</text>
<circle cx="457.12" cy="483.00" r="2.0" fill="#333333"/>
<circle cx="461.12" cy="483.00" r="2.0" fill="#333333"/>
<circle cx="459.12" cy="487.00" r="2.0" fill="#333333"/>
<rect x="467.96" y="456.40" width="9.00" height="92.10" fill="#8aacd8"/>
<path d="M469.36 548.50V457.80H475.56V548.50" fill="none" stroke="#0a3a88" stroke-width="2.8"/>
<line x1="472.46" y1="548.50" x2="472.46" y2="556.50" stroke="#000" stroke-width="1.6"/>
<text x="475.66" y="566.30" font-size="10" font-weight="bold" text-anchor="end" transform="rotate(-45 475.66 566.30)">0h</text>
<line x1="472.46" y1="453.00" x2="472.46" y2="457.50" stroke="#0a3a88" stroke-width="1.1"/>
<line x1="469.46" y1="453.00" x2="475.46" y2="453.00" stroke="#0a3a88" stroke-width="1.1"/>
<line x1="469.46" y1="457.50" x2="475.46" y2="457.50" stroke="#0a3a88" stroke-width="1.1"/>
<circle cx="472.46" cy="453.00" r="2.0" fill="#0a3a88"/>
<rect x="481.30" y="438.60" width="9.00" height="109.90" fill="#8aacd8"/>
<path d="M482.70 548.50V440.00H488.90V548.50" fill="none" stroke="#0a3a88" stroke-width="2.8"/>
<line x1="485.80" y1="548.50" x2="485.80" y2="556.50" stroke="#000" stroke-width="1.6"/>
<text x="489.00" y="566.30" font-size="10" font-weight="bold" text-anchor="end" transform="rotate(-45 489.00 566.30)">24h</text>
<line x1="485.80" y1="435.00" x2="485.80" y2="439.50" stroke="#0a3a88" stroke-width="1.1"/>
<line x1="482.80" y1="435.00" x2="488.80" y2="435.00" stroke="#0a3a88" stroke-width="1.1"/>
<line x1="482.80" y1="439.50" x2="488.80" y2="439.50" stroke="#0a3a88" stroke-width="1.1"/>
<circle cx="485.80" cy="435.00" r="2.0" fill="#0a3a88"/>
<rect x="494.64" y="425.40" width="9.00" height="123.10" fill="#8aacd8"/>
<path d="M496.04 548.50V426.80H502.24V548.50" fill="none" stroke="#0a3a88" stroke-width="2.8"/>
<line x1="499.14" y1="548.50" x2="499.14" y2="556.50" stroke="#000" stroke-width="1.6"/>
<text x="502.34" y="566.30" font-size="10" font-weight="bold" text-anchor="end" transform="rotate(-45 502.34 566.30)">48h</text>
<circle cx="496.84" cy="426.60" r="1.8" fill="#0a3a88"/>
<circle cx="499.14" cy="426.60" r="1.8" fill="#0a3a88"/>
<circle cx="501.44" cy="426.60" r="1.8" fill="#0a3a88"/>
<rect x="507.98" y="406.50" width="9.00" height="142.00" fill="#8aacd8"/>
<path d="M509.38 548.50V407.90H515.58V548.50" fill="none" stroke="#0a3a88" stroke-width="2.8"/>
<line x1="512.48" y1="548.50" x2="512.48" y2="556.50" stroke="#000" stroke-width="1.6"/>
<text x="515.68" y="566.30" font-size="10" font-weight="bold" text-anchor="end" transform="rotate(-45 515.68 566.30)">72h</text>
<line x1="512.48" y1="402.80" x2="512.48" y2="407.50" stroke="#0a3a88" stroke-width="1.1"/>
<line x1="509.48" y1="402.80" x2="515.48" y2="402.80" stroke="#0a3a88" stroke-width="1.1"/>
<line x1="509.48" y1="407.50" x2="515.48" y2="407.50" stroke="#0a3a88" stroke-width="1.1"/>
<circle cx="512.48" cy="402.80" r="2.0" fill="#0a3a88"/>
<rect x="521.32" y="477.20" width="9.00" height="71.30" fill="#f8ec5c"/>
<path d="M522.72 548.50V478.60H528.92V548.50" fill="none" stroke="#95601a" stroke-width="2.8"/>
<line x1="525.82" y1="548.50" x2="525.82" y2="556.50" stroke="#000" stroke-width="1.6"/>
<text x="529.02" y="566.30" font-size="10" font-weight="bold" text-anchor="end" transform="rotate(-45 529.02 566.30)">0h</text>
<circle cx="523.52" cy="478.40" r="1.8" fill="#f0d040"/>
<circle cx="525.82" cy="478.40" r="1.8" fill="#f0d040"/>
<circle cx="528.12" cy="478.40" r="1.8" fill="#f0d040"/>
<rect x="534.66" y="485.10" width="9.00" height="63.40" fill="#f8ec5c"/>
<path d="M536.06 548.50V486.50H542.26V548.50" fill="none" stroke="#95601a" stroke-width="2.8"/>
<line x1="539.16" y1="548.50" x2="539.16" y2="556.50" stroke="#000" stroke-width="1.6"/>
<text x="542.36" y="566.30" font-size="10" font-weight="bold" text-anchor="end" transform="rotate(-45 542.36 566.30)">24h</text>
<circle cx="539.16" cy="481.50" r="2.0" fill="#f0d040"/>
<circle cx="537.16" cy="485.50" r="2.0" fill="#f0d040"/>
<circle cx="541.16" cy="485.50" r="2.0" fill="#f0d040"/>
<rect x="548.00" y="489.60" width="9.00" height="58.90" fill="#f8ec5c"/>
<path d="M549.40 548.50V491.00H555.60V548.50" fill="none" stroke="#95601a" stroke-width="2.8"/>
<line x1="552.50" y1="548.50" x2="552.50" y2="556.50" stroke="#000" stroke-width="1.6"/>
<text x="555.70" y="566.30" font-size="10" font-weight="bold" text-anchor="end" transform="rotate(-45 555.70 566.30)">48h</text>
<circle cx="552.50" cy="485.50" r="2.0" fill="#f0d040"/>
<circle cx="550.50" cy="490.00" r="2.0" fill="#f0d040"/>
<circle cx="554.50" cy="490.00" r="2.0" fill="#f0d040"/>
<rect x="561.34" y="485.10" width="9.00" height="63.40" fill="#f8ec5c"/>
<path d="M562.74 548.50V486.50H568.94V548.50" fill="none" stroke="#95601a" stroke-width="2.8"/>
<line x1="565.84" y1="548.50" x2="565.84" y2="556.50" stroke="#000" stroke-width="1.6"/>
<text x="569.04" y="566.30" font-size="10" font-weight="bold" text-anchor="end" transform="rotate(-45 569.04 566.30)">72h</text>
<circle cx="565.84" cy="481.50" r="2.0" fill="#f0d040"/>
<circle cx="563.84" cy="485.50" r="2.0" fill="#f0d040"/>
<circle cx="567.84" cy="485.50" r="2.0" fill="#f0d040"/>
<rect x="574.68" y="477.20" width="9.00" height="71.30" fill="#c0ecd8"/>
<path d="M576.08 548.50V478.60H582.28V548.50" fill="none" stroke="#17895a" stroke-width="2.8"/>
<line x1="579.18" y1="548.50" x2="579.18" y2="556.50" stroke="#000" stroke-width="1.6"/>
<text x="582.38" y="566.30" font-size="10" font-weight="bold" text-anchor="end" transform="rotate(-45 582.38 566.30)">0h</text>
<circle cx="576.88" cy="478.40" r="1.8" fill="#b0e4cc"/>
<circle cx="579.18" cy="478.40" r="1.8" fill="#b0e4cc"/>
<circle cx="581.48" cy="478.40" r="1.8" fill="#b0e4cc"/>
<rect x="588.02" y="472.20" width="9.00" height="76.30" fill="#c0ecd8"/>
<path d="M589.42 548.50V473.60H595.62V548.50" fill="none" stroke="#17895a" stroke-width="2.8"/>
<line x1="592.52" y1="548.50" x2="592.52" y2="556.50" stroke="#000" stroke-width="1.6"/>
<text x="595.72" y="566.30" font-size="10" font-weight="bold" text-anchor="end" transform="rotate(-45 595.72 566.30)">24h</text>
<line x1="592.52" y1="469.00" x2="592.52" y2="476.00" stroke="#17895a" stroke-width="1.1"/>
<line x1="589.52" y1="469.00" x2="595.52" y2="469.00" stroke="#17895a" stroke-width="1.1"/>
<line x1="589.52" y1="476.00" x2="595.52" y2="476.00" stroke="#17895a" stroke-width="1.1"/>
<circle cx="592.52" cy="467.50" r="2.0" fill="#b0e4cc"/>
<circle cx="590.52" cy="472.00" r="2.0" fill="#b0e4cc"/>
<circle cx="594.52" cy="472.00" r="2.0" fill="#b0e4cc"/>
<rect x="601.36" y="484.10" width="9.00" height="64.40" fill="#c0ecd8"/>
<path d="M602.76 548.50V485.50H608.96V548.50" fill="none" stroke="#17895a" stroke-width="2.8"/>
<line x1="605.86" y1="548.50" x2="605.86" y2="556.50" stroke="#000" stroke-width="1.6"/>
<text x="609.06" y="566.30" font-size="10" font-weight="bold" text-anchor="end" transform="rotate(-45 609.06 566.30)">48h</text>
<line x1="605.86" y1="476.00" x2="605.86" y2="492.00" stroke="#17895a" stroke-width="1.1"/>
<line x1="602.86" y1="476.00" x2="608.86" y2="476.00" stroke="#17895a" stroke-width="1.1"/>
<line x1="602.86" y1="492.00" x2="608.86" y2="492.00" stroke="#17895a" stroke-width="1.1"/>
<circle cx="605.86" cy="475.50" r="2.0" fill="#b0e4cc"/>
<circle cx="605.86" cy="486.00" r="2.0" fill="#b0e4cc"/>
<rect x="614.70" y="484.10" width="9.00" height="64.40" fill="#c0ecd8"/>
<path d="M616.10 548.50V485.50H622.30V548.50" fill="none" stroke="#17895a" stroke-width="2.8"/>
<line x1="619.20" y1="548.50" x2="619.20" y2="556.50" stroke="#000" stroke-width="1.6"/>
<text x="622.40" y="566.30" font-size="10" font-weight="bold" text-anchor="end" transform="rotate(-45 622.40 566.30)">72h</text>
<line x1="619.20" y1="474.50" x2="619.20" y2="492.00" stroke="#17895a" stroke-width="1.1"/>
<line x1="616.20" y1="474.50" x2="622.20" y2="474.50" stroke="#17895a" stroke-width="1.1"/>
<line x1="616.20" y1="492.00" x2="622.20" y2="492.00" stroke="#17895a" stroke-width="1.1"/>
<circle cx="619.20" cy="474.50" r="2.0" fill="#b0e4cc"/>
<circle cx="619.20" cy="479.00" r="2.0" fill="#b0e4cc"/>
<circle cx="619.20" cy="489.00" r="2.0" fill="#b0e4cc"/>
<rect x="628.04" y="479.60" width="9.00" height="68.90" fill="#f8d8f8"/>
<path d="M629.44 548.50V481.00H635.64V548.50" fill="none" stroke="#b020e8" stroke-width="2.8"/>
<line x1="632.54" y1="548.50" x2="632.54" y2="556.50" stroke="#000" stroke-width="1.6"/>
<text x="635.74" y="566.30" font-size="10" font-weight="bold" text-anchor="end" transform="rotate(-45 635.74 566.30)">0h</text>
<circle cx="632.54" cy="476.00" r="2.0" fill="#b020e8"/>
<rect x="641.38" y="484.10" width="9.00" height="64.40" fill="#f8d8f8"/>
<path d="M642.78 548.50V485.50H648.98V548.50" fill="none" stroke="#b020e8" stroke-width="2.8"/>
<line x1="645.88" y1="548.50" x2="645.88" y2="556.50" stroke="#000" stroke-width="1.6"/>
<text x="649.08" y="566.30" font-size="10" font-weight="bold" text-anchor="end" transform="rotate(-45 649.08 566.30)">24h</text>
<line x1="645.88" y1="474.50" x2="645.88" y2="491.00" stroke="#b020e8" stroke-width="1.1"/>
<line x1="642.88" y1="474.50" x2="648.88" y2="474.50" stroke="#b020e8" stroke-width="1.1"/>
<line x1="642.88" y1="491.00" x2="648.88" y2="491.00" stroke="#b020e8" stroke-width="1.1"/>
<circle cx="645.88" cy="474.50" r="2.0" fill="#b020e8"/>
<circle cx="645.88" cy="480.50" r="2.0" fill="#b020e8"/>
<circle cx="645.88" cy="487.00" r="2.0" fill="#b020e8"/>
<rect x="654.72" y="484.10" width="9.00" height="64.40" fill="#f8d8f8"/>
<path d="M656.12 548.50V485.50H662.32V548.50" fill="none" stroke="#b020e8" stroke-width="2.8"/>
<line x1="659.22" y1="548.50" x2="659.22" y2="556.50" stroke="#000" stroke-width="1.6"/>
<text x="662.42" y="566.30" font-size="10" font-weight="bold" text-anchor="end" transform="rotate(-45 662.42 566.30)">48h</text>
<circle cx="659.22" cy="481.00" r="2.0" fill="#b020e8"/>
<rect x="668.06" y="479.10" width="9.00" height="69.40" fill="#f8d8f8"/>
<path d="M669.46 548.50V480.50H675.66V548.50" fill="none" stroke="#b020e8" stroke-width="2.8"/>
<line x1="672.56" y1="548.50" x2="672.56" y2="556.50" stroke="#000" stroke-width="1.6"/>
<text x="675.76" y="566.30" font-size="10" font-weight="bold" text-anchor="end" transform="rotate(-45 675.76 566.30)">72h</text>
<line x1="672.56" y1="474.50" x2="672.56" y2="484.00" stroke="#b020e8" stroke-width="1.1"/>
<line x1="669.56" y1="474.50" x2="675.56" y2="474.50" stroke="#b020e8" stroke-width="1.1"/>
<line x1="669.56" y1="484.00" x2="675.56" y2="484.00" stroke="#b020e8" stroke-width="1.1"/>
<circle cx="670.56" cy="475.50" r="2.0" fill="#b020e8"/>
<circle cx="674.56" cy="475.50" r="2.0" fill="#b020e8"/>
<circle cx="672.56" cy="479.00" r="2.0" fill="#b020e8"/>
<path d="M415.10 583.50V587.30H463.72V583.50" stroke="#222" stroke-width="1.1" fill="none"/>
<text x="437.60" y="600.10" font-size="8.7" font-weight="bold" text-anchor="middle">Arabinogalactan</text>
<path d="M468.46 583.50V587.30H517.08V583.50" stroke="#222" stroke-width="1.1" fill="none"/>
<text x="494.30" y="600.10" font-size="8.7" font-weight="bold" text-anchor="middle">Xylan</text>
<path d="M521.82 583.50V587.30H570.44V583.50" stroke="#222" stroke-width="1.1" fill="none"/>
<text x="547.30" y="600.10" font-size="8.7" font-weight="bold" text-anchor="middle">Pectin</text>
<path d="M575.18 583.50V587.30H623.80V583.50" stroke="#222" stroke-width="1.1" fill="none"/>
<text x="599.90" y="600.10" font-size="8.7" font-weight="bold" text-anchor="middle">Mucin</text>
<path d="M628.54 583.50V587.30H677.16V583.50" stroke="#222" stroke-width="1.1" fill="none"/>
<text x="651.70" y="600.10" font-size="8.7" font-weight="bold" text-anchor="middle">D.W.</text>
<line x1="472.30" y1="426.50" x2="485.90" y2="426.50" stroke="#333" stroke-width="1.1"/>
<path d="M472.15 422.45L472.15 417.95M470.20 421.32L474.10 419.07M470.20 419.07L474.10 421.32" stroke="#000" stroke-width="1.3" stroke-linecap="round" fill="none"/>
<circle cx="472.15" cy="420.20" r="0.85" fill="#000"/>
<path d="M479.10 422.45L479.10 417.95M477.15 421.32L481.05 419.07M477.15 419.07L481.05 421.32" stroke="#000" stroke-width="1.3" stroke-linecap="round" fill="none"/>
<circle cx="479.10" cy="420.20" r="0.85" fill="#000"/>
<path d="M486.05 422.45L486.05 417.95M484.10 421.32L488.00 419.07M484.10 419.07L488.00 421.32" stroke="#000" stroke-width="1.3" stroke-linecap="round" fill="none"/>
<circle cx="486.05" cy="420.20" r="0.85" fill="#000"/>
<line x1="472.30" y1="409.50" x2="499.10" y2="409.50" stroke="#333" stroke-width="1.1"/>
<path d="M475.28 405.65L475.28 401.15M473.33 404.52L477.22 402.27M473.33 402.27L477.22 404.52" stroke="#000" stroke-width="1.3" stroke-linecap="round" fill="none"/>
<circle cx="475.28" cy="403.40" r="0.85" fill="#000"/>
<path d="M482.23 405.65L482.23 401.15M480.28 404.52L484.17 402.27M480.28 402.27L484.17 404.52" stroke="#000" stroke-width="1.3" stroke-linecap="round" fill="none"/>
<circle cx="482.23" cy="403.40" r="0.85" fill="#000"/>
<path d="M489.18 405.65L489.18 401.15M487.23 404.52L491.12 402.27M487.23 402.27L491.12 404.52" stroke="#000" stroke-width="1.3" stroke-linecap="round" fill="none"/>
<circle cx="489.18" cy="403.40" r="0.85" fill="#000"/>
<path d="M496.13 405.65L496.13 401.15M494.18 404.52L498.07 402.27M494.18 402.27L498.07 404.52" stroke="#000" stroke-width="1.3" stroke-linecap="round" fill="none"/>
<circle cx="496.13" cy="403.40" r="0.85" fill="#000"/>
<line x1="472.30" y1="392.50" x2="512.60" y2="392.50" stroke="#333" stroke-width="1.1"/>
<path d="M482.03 388.85L482.03 384.35M480.08 387.73L483.97 385.48M480.08 385.48L483.97 387.73" stroke="#000" stroke-width="1.3" stroke-linecap="round" fill="none"/>
<circle cx="482.03" cy="386.60" r="0.85" fill="#000"/>
<path d="M488.98 388.85L488.98 384.35M487.03 387.73L490.92 385.48M487.03 385.48L490.92 387.73" stroke="#000" stroke-width="1.3" stroke-linecap="round" fill="none"/>
<circle cx="488.98" cy="386.60" r="0.85" fill="#000"/>
<path d="M495.93 388.85L495.93 384.35M493.98 387.73L497.87 385.48M493.98 385.48L497.87 387.73" stroke="#000" stroke-width="1.3" stroke-linecap="round" fill="none"/>
<circle cx="495.93" cy="386.60" r="0.85" fill="#000"/>
<path d="M502.88 388.85L502.88 384.35M500.93 387.73L504.82 385.48M500.93 385.48L504.82 387.73" stroke="#000" stroke-width="1.3" stroke-linecap="round" fill="none"/>
<circle cx="502.88" cy="386.60" r="0.85" fill="#000"/>
<line x1="525.70" y1="463.50" x2="552.70" y2="463.50" stroke="#333" stroke-width="1.1"/>
<path d="M539.20 459.05L539.20 454.55M537.25 457.93L541.15 455.68M537.25 455.68L541.15 457.93" stroke="#000" stroke-width="1.3" stroke-linecap="round" fill="none"/>
<circle cx="539.20" cy="456.80" r="0.85" fill="#000"/>
<text x="26.10" y="654.60" font-size="25" font-weight="bold">E</text>
<text x="219.40" y="648.00" font-size="18.4" font-weight="bold" text-anchor="middle"><tspan font-style="italic">B. dorei</tspan> + Xylose</text>
<line x1="116.50" y1="871.80" x2="124.10" y2="871.80" stroke="#000" stroke-width="1.6"/>
<text x="113.80" y="877.10" font-size="14.4" font-weight="bold" text-anchor="end">0.00</text>
<line x1="116.50" y1="824.20" x2="124.10" y2="824.20" stroke="#000" stroke-width="1.6"/>
<text x="113.80" y="829.50" font-size="14.4" font-weight="bold" text-anchor="end">0.05</text>
<line x1="116.50" y1="776.60" x2="124.10" y2="776.60" stroke="#000" stroke-width="1.6"/>
<text x="113.80" y="781.90" font-size="14.4" font-weight="bold" text-anchor="end">0.10</text>
<line x1="116.50" y1="729.00" x2="124.10" y2="729.00" stroke="#000" stroke-width="1.6"/>
<text x="113.80" y="734.30" font-size="14.4" font-weight="bold" text-anchor="end">0.15</text>
<line x1="116.50" y1="681.40" x2="124.10" y2="681.40" stroke="#000" stroke-width="1.6"/>
<text x="113.80" y="686.70" font-size="14.4" font-weight="bold" text-anchor="end">0.20</text>
<line x1="124.10" y1="680.60" x2="124.10" y2="872.70" stroke="#000" stroke-width="1.8"/>
<text x="72.20" y="775.90" font-size="15.6" font-weight="bold" text-anchor="middle" transform="rotate(-90 72.20 775.90)">OD<tspan font-size="11.4" dy="3">600</tspan><tspan dy="-3">-blk</tspan></text>
<rect x="135.80" y="771.20" width="23.60" height="100.60" fill="#999999"/>
<path d="M137.25 871.80V772.65H157.95V871.80" fill="none" stroke="#000000" stroke-width="2.9"/>
<line x1="147.60" y1="765.20" x2="147.60" y2="775.70" stroke="#333333" stroke-width="1.2"/>
<line x1="141.70" y1="765.20" x2="153.50" y2="765.20" stroke="#333333" stroke-width="1.2"/>
<line x1="141.70" y1="775.70" x2="153.50" y2="775.70" stroke="#333333" stroke-width="1.2"/>
<circle cx="147.60" cy="763.40" r="1.9" fill="#333333"/>
<circle cx="144.50" cy="775.20" r="1.9" fill="#333333"/>
<circle cx="151.00" cy="774.70" r="1.9" fill="#333333"/>
<rect x="171.50" y="745.50" width="23.70" height="126.30" fill="#8eb1cb"/>
<path d="M172.95 871.80V746.95H193.75V871.80" fill="none" stroke="#07202f" stroke-width="2.9"/>
<line x1="183.35" y1="742.90" x2="183.35" y2="746.30" stroke="#1e3a50" stroke-width="1.2"/>
<line x1="177.45" y1="742.90" x2="189.25" y2="742.90" stroke="#1e3a50" stroke-width="1.2"/>
<line x1="177.45" y1="746.30" x2="189.25" y2="746.30" stroke="#1e3a50" stroke-width="1.2"/>
<circle cx="183.30" cy="741.50" r="1.9" fill="#1f5f94"/>
<circle cx="179.90" cy="746.80" r="1.9" fill="#1f5f94"/>
<circle cx="187.30" cy="746.30" r="1.9" fill="#1f5f94"/>
<rect x="207.50" y="766.50" width="23.70" height="105.30" fill="#fde8a4"/>
<path d="M208.95 871.80V767.95H229.75V871.80" fill="none" stroke="#6e5620" stroke-width="2.9"/>
<line x1="219.35" y1="757.60" x2="219.35" y2="774.70" stroke="#6e5620" stroke-width="1.2"/>
<line x1="213.45" y1="757.60" x2="225.25" y2="757.60" stroke="#6e5620" stroke-width="1.2"/>
<line x1="213.45" y1="774.70" x2="225.25" y2="774.70" stroke="#6e5620" stroke-width="1.2"/>
<circle cx="219.30" cy="757.60" r="1.9" fill="#f8c830"/>
<circle cx="219.30" cy="766.50" r="1.9" fill="#f8c830"/>
<circle cx="219.30" cy="775.20" r="1.9" fill="#f8c830"/>
<rect x="243.50" y="746.30" width="23.10" height="125.50" fill="#e0efe4"/>
<path d="M244.95 871.80V747.75H265.15V871.80" fill="none" stroke="#4a7a72" stroke-width="2.9"/>
<line x1="255.05" y1="734.50" x2="255.05" y2="757.30" stroke="#4a7a72" stroke-width="1.2"/>
<line x1="249.15" y1="734.50" x2="260.95" y2="734.50" stroke="#4a7a72" stroke-width="1.2"/>
<line x1="249.15" y1="757.30" x2="260.95" y2="757.30" stroke="#4a7a72" stroke-width="1.2"/>
<circle cx="250.90" cy="737.90" r="1.9" fill="#c0e0c8"/>
<circle cx="258.70" cy="741.00" r="1.9" fill="#c0e0c8"/>
<circle cx="254.80" cy="758.10" r="1.9" fill="#c0e0c8"/>
<rect x="279.20" y="734.50" width="22.90" height="137.30" fill="#f0c8f8"/>
<path d="M280.65 871.80V735.95H300.65V871.80" fill="none" stroke="#a010e0" stroke-width="2.9"/>
<line x1="290.65" y1="725.30" x2="290.65" y2="741.00" stroke="#a010e0" stroke-width="1.2"/>
<line x1="284.75" y1="725.30" x2="296.55" y2="725.30" stroke="#a010e0" stroke-width="1.2"/>
<line x1="284.75" y1="741.00" x2="296.55" y2="741.00" stroke="#a010e0" stroke-width="1.2"/>
<circle cx="290.80" cy="725.30" r="1.9" fill="#a010e0"/>
<circle cx="290.80" cy="736.30" r="1.9" fill="#a010e0"/>
<circle cx="290.80" cy="741.00" r="1.9" fill="#a010e0"/>
<line x1="147.70" y1="871.80" x2="147.70" y2="879.60" stroke="#000" stroke-width="1.6"/>
<text x="152.50" y="892.50" font-size="14.5" font-weight="bold" text-anchor="end" transform="rotate(-45 152.50 892.50)">0 µM</text>
<line x1="183.40" y1="871.80" x2="183.40" y2="879.60" stroke="#000" stroke-width="1.6"/>
<text x="188.20" y="892.50" font-size="14.5" font-weight="bold" text-anchor="end" transform="rotate(-45 188.20 892.50)">50 µM</text>
<line x1="219.30" y1="871.80" x2="219.30" y2="879.60" stroke="#000" stroke-width="1.6"/>
<text x="224.10" y="892.50" font-size="14.5" font-weight="bold" text-anchor="end" transform="rotate(-45 224.10 892.50)">100 µM</text>
<line x1="255.00" y1="871.80" x2="255.00" y2="879.60" stroke="#000" stroke-width="1.6"/>
<text x="259.80" y="892.50" font-size="14.5" font-weight="bold" text-anchor="end" transform="rotate(-45 259.80 892.50)">250 µM</text>
<line x1="290.80" y1="871.80" x2="290.80" y2="879.60" stroke="#000" stroke-width="1.6"/>
<text x="295.60" y="892.50" font-size="14.5" font-weight="bold" text-anchor="end" transform="rotate(-45 295.60 892.50)">500 µM</text>
<text x="219.50" y="949.70" font-size="15.8" font-weight="bold" text-anchor="middle">[Xylose, µM]</text>
<line x1="147.70" y1="725.50" x2="183.40" y2="725.50" stroke="#333" stroke-width="1.15"/>
<path d="M161.45 717.65L161.45 712.35M159.16 716.33L163.74 713.67M159.16 713.67L163.74 716.33" stroke="#000" stroke-width="1.4" stroke-linecap="round" fill="none"/>
<circle cx="161.45" cy="715.00" r="1.01" fill="#000"/>
<path d="M169.65 717.65L169.65 712.35M167.36 716.33L171.94 713.67M167.36 713.67L171.94 716.33" stroke="#000" stroke-width="1.4" stroke-linecap="round" fill="none"/>
<circle cx="169.65" cy="715.00" r="1.01" fill="#000"/>
<line x1="147.70" y1="706.50" x2="254.90" y2="706.50" stroke="#333" stroke-width="1.15"/>
<path d="M197.20 697.95L197.20 692.65M194.91 696.62L199.49 693.97M194.91 693.97L199.49 696.62" stroke="#000" stroke-width="1.4" stroke-linecap="round" fill="none"/>
<circle cx="197.20" cy="695.30" r="1.01" fill="#000"/>
<path d="M205.40 697.95L205.40 692.65M203.11 696.62L207.69 693.97M203.11 693.97L207.69 696.62" stroke="#000" stroke-width="1.4" stroke-linecap="round" fill="none"/>
<circle cx="205.40" cy="695.30" r="1.01" fill="#000"/>
<line x1="147.70" y1="683.50" x2="290.80" y2="683.50" stroke="#333" stroke-width="1.15"/>
<path d="M211.25 675.55L211.25 670.25M208.96 674.23L213.54 671.57M208.96 671.57L213.54 674.23" stroke="#000" stroke-width="1.4" stroke-linecap="round" fill="none"/>
<circle cx="211.25" cy="672.90" r="1.01" fill="#000"/>
<path d="M219.25 675.55L219.25 670.25M216.96 674.23L221.54 671.57M216.96 671.57L221.54 674.23" stroke="#000" stroke-width="1.4" stroke-linecap="round" fill="none"/>
<circle cx="219.25" cy="672.90" r="1.01" fill="#000"/>
<path d="M227.25 675.55L227.25 670.25M224.96 674.23L229.54 671.57M224.96 671.57L229.54 674.23" stroke="#000" stroke-width="1.4" stroke-linecap="round" fill="none"/>
<circle cx="227.25" cy="672.90" r="1.01" fill="#000"/>
<text x="366.10" y="654.60" font-size="25" font-weight="bold">F</text>
<text x="536.80" y="671.40" font-size="18" font-weight="bold" text-anchor="middle">CAZy</text>
<line x1="431.20" y1="892.60" x2="438.80" y2="892.60" stroke="#000" stroke-width="1.6"/>
<text x="428.60" y="897.90" font-size="14.7" font-weight="bold" text-anchor="end">0</text>
<line x1="431.20" y1="843.70" x2="438.80" y2="843.70" stroke="#000" stroke-width="1.6"/>
<text x="428.60" y="849.00" font-size="14.7" font-weight="bold" text-anchor="end">10</text>
<line x1="431.20" y1="794.80" x2="438.80" y2="794.80" stroke="#000" stroke-width="1.6"/>
<text x="428.60" y="800.10" font-size="14.7" font-weight="bold" text-anchor="end">20</text>
<line x1="431.20" y1="745.90" x2="438.80" y2="745.90" stroke="#000" stroke-width="1.6"/>
<text x="428.60" y="751.20" font-size="14.7" font-weight="bold" text-anchor="end">30</text>
<line x1="431.20" y1="697.00" x2="438.80" y2="697.00" stroke="#000" stroke-width="1.6"/>
<text x="428.60" y="702.30" font-size="14.7" font-weight="bold" text-anchor="end">40</text>
<line x1="438.80" y1="696.20" x2="438.80" y2="893.50" stroke="#000" stroke-width="1.8"/>
<text x="400.00" y="794.60" font-size="16.2" font-weight="bold" text-anchor="middle" transform="rotate(-90 400.00 794.60)">Number of sequences</text>
<rect x="453.70" y="809.00" width="29.90" height="83.60" fill="#333333"/>
<path d="M455.15 892.60V810.45H482.15V892.60" fill="none" stroke="#000000" stroke-width="2.9"/>
<line x1="468.65" y1="892.60" x2="468.65" y2="899.00" stroke="#000" stroke-width="1.6"/>
<text x="468.65" y="916.50" font-size="14.7" font-weight="bold" text-anchor="middle">GH</text>
<rect x="499.30" y="751.20" width="29.90" height="141.40" fill="#1f5f94"/>
<path d="M500.75 892.60V752.65H527.75V892.60" fill="none" stroke="#0d2d45" stroke-width="2.9"/>
<line x1="514.25" y1="892.60" x2="514.25" y2="899.00" stroke="#000" stroke-width="1.6"/>
<text x="514.25" y="916.50" font-size="14.7" font-weight="bold" text-anchor="middle">GT</text>
<rect x="544.30" y="878.00" width="29.80" height="14.60" fill="#fdd44c"/>
<path d="M545.75 892.60V879.45H572.65V892.60" fill="none" stroke="#6e5620" stroke-width="2.9"/>
<line x1="559.20" y1="892.60" x2="559.20" y2="899.00" stroke="#000" stroke-width="1.6"/>
<text x="559.20" y="916.50" font-size="14.7" font-weight="bold" text-anchor="middle">CE</text>
<rect x="589.20" y="867.80" width="29.90" height="24.80" fill="#c8e4cc"/>
<path d="M590.65 892.60V869.25H617.65V892.60" fill="none" stroke="#4a7a72" stroke-width="2.9"/>
<line x1="604.15" y1="892.60" x2="604.15" y2="899.00" stroke="#000" stroke-width="1.6"/>
<text x="604.15" y="916.50" font-size="14.7" font-weight="bold" text-anchor="middle">CBM</text>
<line x1="125.20" y1="240.80" x2="308.70" y2="240.80" stroke="#000" stroke-width="1.8"/>
<line x1="425.20" y1="252.90" x2="598.70" y2="252.90" stroke="#000" stroke-width="1.8"/>
<line x1="61.30" y1="555.50" x2="340.80" y2="555.50" stroke="#000" stroke-width="1.8"/>
<line x1="402.30" y1="548.50" x2="683.80" y2="548.50" stroke="#000" stroke-width="1.8"/>
<line x1="116.50" y1="871.80" x2="314.80" y2="871.80" stroke="#000" stroke-width="1.8"/>
<line x1="431.20" y1="892.60" x2="634.50" y2="892.60" stroke="#000" stroke-width="1.8"/>
</svg></body></html>
